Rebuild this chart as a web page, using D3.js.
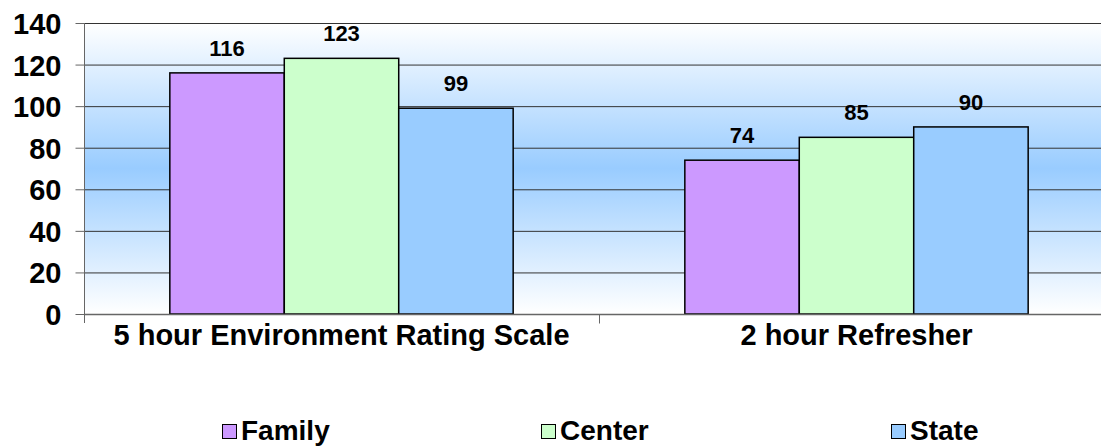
<!DOCTYPE html>
<html>
<head>
<meta charset="utf-8">
<script src="https://cdn.jsdelivr.net/npm/d3@7"></script>
<style>
  body { margin: 0; background: #fff; }
  svg text { font-family: Arial, "Liberation Sans", sans-serif; font-weight: bold; fill: #000; }
</style>
</head>
<body>
<svg id="chart" width="1101" height="448"></svg>
<script>
let WIDTH = 1101;
let HEIGHT = 448;

let categories = ['5 hour Environment Rating Scale', '2 hour Refresher'];
let series = ['Family', 'Center', 'State'];
let family = [116, 74];
let center = [123, 85];
let state = [99, 90];
let yTicks = [0, 20, 40, 60, 80, 100, 120, 140];
let colors = ['#CC99FF', '#CCFFCC', '#99CCFF'];

let values = [family, center, state];

let plotLeft = 84, plotTop = 23, plotRight = 1114, plotBottom = 314;

let svg = d3.select('#chart');

//背景グラデーション
let defs = svg.append('defs');
let grad = defs.append('linearGradient')
  .attr('id', 'bg')
  .attr('x1', 0).attr('y1', 0).attr('x2', 0).attr('y2', 1);
grad.append('stop').attr('offset', '0%').attr('stop-color', '#ffffff');
grad.append('stop').attr('offset', '50%').attr('stop-color', '#99ccff');
grad.append('stop').attr('offset', '100%').attr('stop-color', '#ffffff');

let xScale = d3.scaleBand().domain(categories).range([plotLeft, plotRight]).padding(0);
let xInner = d3.scaleBand().domain(series).range([0, xScale.bandwidth()])
  .paddingInner(0).paddingOuter(0.75);
let yScale = d3.scaleLinear().domain([0, 140]).range([plotBottom, plotTop]);

svg.append('rect')
  .attr('x', plotLeft).attr('y', plotTop)
  .attr('width', plotRight - plotLeft).attr('height', plotBottom - plotTop)
  .attr('fill', 'url(#bg)');

// grid lines
svg.append('g')
  .selectAll('line')
  .data(yTicks.filter(d => d > 0))
  .enter().append('line')
  .attr('x1', plotLeft).attr('x2', plotRight)
  .attr('y1', d => yScale(d) + 0.5).attr('y2', d => yScale(d) + 0.5)
  .attr('stroke', '#333').attr('stroke-width', 1);

// bars
let groups = svg.append('g')
  .selectAll('g')
  .data(series)
  .enter().append('g');

groups.each(function (s, si) {
  let g = d3.select(this);
  categories.forEach(function (c, ci) {
    let v = values[si][ci];
    let x = xScale(c) + xInner(s);
    g.append('rect')
      .attr('x', x).attr('y', yScale(v))
      .attr('width', xInner.bandwidth()).attr('height', plotBottom - yScale(v))
      .attr('fill', colors[si])
      .attr('stroke', '#000').attr('stroke-width', 1.5);
    g.append('text')
      .attr('x', x + xInner.bandwidth() / 2)
      .attr('y', yScale(v) - 17)
      .attr('text-anchor', 'middle')
      .style('font-size', '22px')
      .text(v);
  });
});

// y axis
let leftAxis = d3.axisLeft(yScale).tickValues(yTicks).tickSize(9).tickPadding(14);
let ya = svg.append('g')
  .attr('transform', 'translate(' + (plotLeft + 0.5) + ',0)')
  .call(leftAxis);
ya.select('.domain').attr('stroke', '#666').attr('d', 'M0,' + plotTop + 'V' + (plotBottom + 9));
ya.selectAll('.tick line').attr('stroke', '#666');
ya.selectAll('.tick text').style('font-size', '29px').attr('dy', '0.36em');

// x axis
let xa = svg.append('g').attr('transform', 'translate(0,' + (plotBottom + 0.5) + ')');
xa.append('line').attr('x1', plotLeft).attr('x2', plotRight).attr('stroke', '#666').attr('stroke-width', 1.5);
xa.selectAll('line.tk')
  .data([xScale(categories[1])])
  .enter().append('line')
  .attr('class', 'tk')
  .attr('x1', d => d + 0.5).attr('x2', d => d + 0.5)
  .attr('y1', 0).attr('y2', 9)
  .attr('stroke', '#666');
xa.selectAll('text')
  .data(categories)
  .enter().append('text')
  .attr('x', d => xScale(d) + xScale.bandwidth() / 2)
  .attr('y', 30)
  .attr('text-anchor', 'middle')
  .style('font-size', '29px')
  .text(d => d);

// legend
let legendX = [222, 541, 891];
let lg = svg.append('g')
  .selectAll('g')
  .data(series)
  .enter().append('g')
  .attr('transform', (d, i) => 'translate(' + legendX[i] + ',424)');
lg.append('rect')
  .attr('x', 0.5).attr('y', 0.5).attr('width', 14).attr('height', 14)
  .attr('fill', (d, i) => colors[i])
  .attr('stroke', '#000').attr('stroke-width', 1);
lg.append('text')
  .attr('x', 19).attr('y', 16)
  .style('font-size', '28px')
  .text(d => d);
</script>
</body>
</html>
